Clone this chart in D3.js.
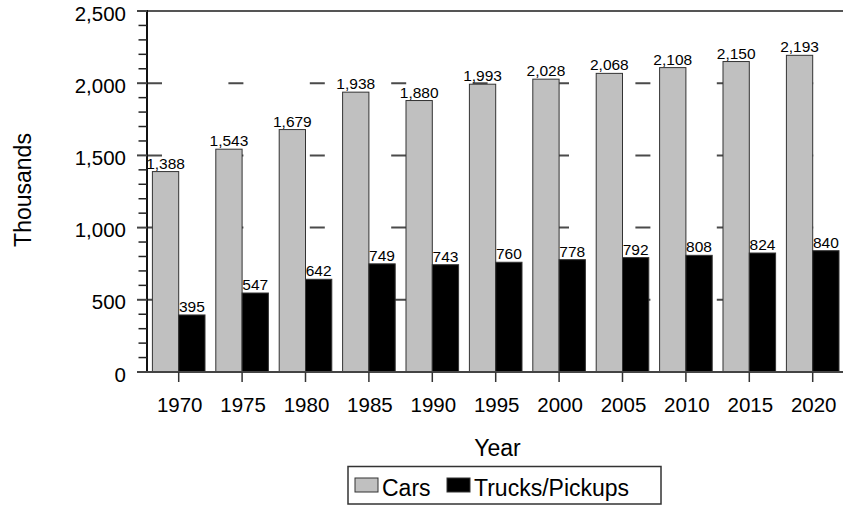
<!DOCTYPE html>
<html>
<head>
<meta charset="utf-8">
<script src="https://cdn.jsdelivr.net/npm/d3@7"></script>
<style>
  html, body { margin: 0; padding: 0; background: #fff; }
  svg { display: block; }
  text { font-family: "Liberation Sans", Arial, sans-serif; fill: #000; }
</style>
</head>
<body>
<div id="chart"></div>
<script>
const years = ["1970","1975","1980","1985","1990","1995","2000","2005","2010","2015","2020"];
const cars = [1388,1543,1679,1938,1880,1993,2028,2068,2108,2150,2193];
const trucks = [395,547,642,749,743,760,778,792,808,824,840];
const seriesNames = ["Cars","Trucks/Pickups"];
const seriesColors = ["#c0c0c0","#000000"];
const yTicks = [0,500,1000,1500,2000,2500];

(function () {
const W = 843, H = 506;
const svg = d3.select("#chart").append("svg").attr("width", W).attr("height", H);

const pLeft = 147, pTop = 11, pBottom = 372, bandW = 63.4;
const pRight = pLeft + bandW * years.length;

const y = d3.scaleLinear().domain([0, 2500]).range([pBottom, pTop]);
const x0 = d3.scaleBand().domain(years).range([pLeft, pRight]).paddingInner(0).paddingOuter(0);
const x1 = d3.scaleBand().domain(seriesNames).range([5.4, x0.bandwidth() - 5.4]).padding(0);

const data = years.map((yr, i) => ({ year: yr, values: [cars[i], trucks[i]] }));

// gridlines (dashed)
svg.append("g").selectAll("line")
  .data(yTicks.filter(t => t > 0 && t < 2500))
  .join("line")
  .attr("x1", pLeft).attr("x2", W + 10)
  .attr("y1", d => y(d)).attr("y2", d => y(d))
  .attr("stroke", "#4a4a4a").attr("stroke-width", 2)
  .attr("stroke-dasharray", "15,66.4");

// top border line
svg.append("line")
  .attr("x1", pLeft).attr("x2", W + 10)
  .attr("y1", y(2500)).attr("y2", y(2500))
  .attr("stroke", "#555").attr("stroke-width", 2);

// bars
const groups = svg.append("g").selectAll("g")
  .data(data).join("g")
  .attr("transform", d => `translate(${x0(d.year)},0)`);

groups.selectAll("rect")
  .data(d => d.values.map((v, j) => ({ key: seriesNames[j], v, j })))
  .join("rect")
  .attr("x", d => x1(d.key))
  .attr("width", x1.bandwidth())
  .attr("y", d => y(d.v))
  .attr("height", d => y(0) - y(d.v))
  .attr("fill", d => seriesColors[d.j])
  .attr("stroke", "#333")
  .attr("stroke-width", 1);

groups.selectAll("text.val")
  .data(d => d.values.map((v, j) => ({ key: seriesNames[j], v, j })))
  .join("text")
  .attr("class", "val")
  .attr("x", d => x1(d.key) + x1.bandwidth() / 2)
  .attr("y", d => y(d.v) - 3)
  .attr("text-anchor", "middle")
  .style("font-size", "15.5px")
  .text(d => d3.format(",")(d.v));

// y axis
const yAxisG = svg.append("g");
yAxisG.append("line")
  .attr("x1", pLeft).attr("x2", pLeft)
  .attr("y1", y(2500) - 1).attr("y2", y(0) + 1)
  .attr("stroke", "#111").attr("stroke-width", 2);
const minor = d3.range(0, 2501, 100).filter(v => v % 500 !== 0);
yAxisG.selectAll("line.minor").data(minor).join("line")
  .attr("class", "minor")
  .attr("x1", pLeft - 8.5).attr("x2", pLeft)
  .attr("y1", d => y(d)).attr("y2", d => y(d))
  .attr("stroke", "#222").attr("stroke-width", 1.5);
yAxisG.selectAll("line.major").data(yTicks).join("line")
  .attr("class", "major")
  .attr("x1", pLeft - 10).attr("x2", pLeft)
  .attr("y1", d => y(d)).attr("y2", d => y(d))
  .attr("stroke", "#444").attr("stroke-width", 2);
yAxisG.selectAll("text").data(yTicks).join("text")
  .attr("x", 126)
  .attr("y", d => y(d) + 9.5)
  .attr("text-anchor", "end")
  .style("font-size", "20.5px")
  .text(d => d3.format(",")(d));

// x axis
const xAxisG = svg.append("g");
xAxisG.append("line")
  .attr("x1", pLeft - 10).attr("x2", W + 10)
  .attr("y1", y(0)).attr("y2", y(0))
  .attr("stroke", "#444").attr("stroke-width", 2);
xAxisG.selectAll("line.tick").data(years).join("line")
  .attr("class", "tick")
  .attr("x1", d => x0(d) + x0.bandwidth() / 2).attr("x2", d => x0(d) + x0.bandwidth() / 2)
  .attr("y1", y(0)).attr("y2", y(0) + 10)
  .attr("stroke", "#333").attr("stroke-width", 1.5);
xAxisG.selectAll("text").data(years).join("text")
  .attr("x", d => x0(d) + x0.bandwidth() / 2 + 1)
  .attr("y", 412)
  .attr("text-anchor", "middle")
  .style("font-size", "20.5px")
  .text(d => d);

// axis titles
svg.append("text")
  .attr("x", 497.5).attr("y", 456)
  .attr("text-anchor", "middle")
  .style("font-size", "23px")
  .text("Year");
svg.append("text")
  .attr("transform", "translate(31,190) rotate(-90)")
  .attr("text-anchor", "middle")
  .style("font-size", "23px")
  .text("Thousands");

// legend
const lg = svg.append("g");
lg.append("rect")
  .attr("x", 348).attr("y", 466.5).attr("width", 313).attr("height", 37.5)
  .attr("fill", "#fff").attr("stroke", "#333").attr("stroke-width", 1.5);
const legendItems = [
  { name: seriesNames[0], color: seriesColors[0], sx: 355, tx: 382 },
  { name: seriesNames[1], color: seriesColors[1], sx: 447, tx: 474 }
];
lg.selectAll("rect.sw").data(legendItems).join("rect")
  .attr("class", "sw")
  .attr("x", d => d.sx).attr("y", 478).attr("width", 23).attr("height", 14)
  .attr("fill", d => d.color).attr("stroke", "#333").attr("stroke-width", 1);
lg.selectAll("text").data(legendItems).join("text")
  .attr("x", d => d.tx).attr("y", 496)
  .style("font-size", "23px")
  .text(d => d.name);
})();
</script>
</body>
</html>
